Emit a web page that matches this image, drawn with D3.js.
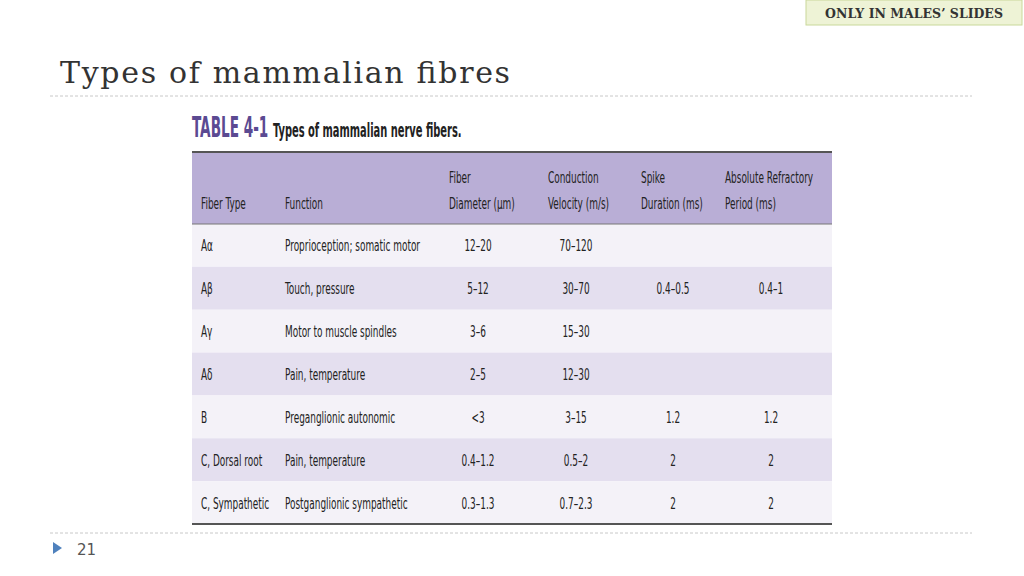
<!DOCTYPE html><html><head><meta charset="utf-8">
<script src="https://cdn.jsdelivr.net/npm/d3@7"></script>
<style>body{margin:0;background:#fff}svg{display:block}</style></head><body>
<script>
const headers=[["Fiber Type"],["Function"],["Fiber","Diameter (μm)"],["Conduction","Velocity (m/s)"],["Spike","Duration (ms)"],["Absolute Refractory","Period (ms)"]];
const fiberTypes=["Aα","Aβ","Aγ","Aδ","B","C, Dorsal root","C, Sympathetic"];
const functions=["Proprioception; somatic motor","Touch, pressure","Motor to muscle spindles","Pain, temperature","Preganglionic autonomic","Pain, temperature","Postganglionic sympathetic"];
const diameters=["12–20","5–12","3–6","2–5","<3","0.4–1.2","0.3–1.3"];
const velocities=["70–120","30–70","15–30","12–30","3–15","0.5–2","0.7–2.3"];
const spikes=["","0.4–0.5","","","1.2","2","2"];
const refractory=["","0.4–1","","","1.2","2","2"];

const W=1024,H=576;
const svg=d3.select("body").append("svg").attr("width",W).attr("height",H);
const cf="'DejaVu Sans Condensed','DejaVu Sans',sans-serif";
const SX=0.62;
function ctext(x,y,t,opts={}){
  return svg.append("text").attr("transform",`translate(${x},${y}) scale(${opts.sx||SX},1)`)
    .attr("text-anchor",opts.anchor||"start").attr("font-family",cf).attr("font-size",opts.size||16)
    .attr("font-weight",opts.bold?"bold":"normal").attr("fill",opts.fill||"#222").text(t);
}
// badge
svg.append("rect").attr("x",806).attr("y",0).attr("width",216).attr("height",25).attr("fill","#eef3d6").attr("stroke","#c9d89a");
svg.append("text").attr("x",914).attr("y",18).attr("text-anchor","middle").attr("font-family","'DejaVu Serif',serif").attr("font-weight","bold").attr("font-size",12.5).attr("fill","#333").text("ONLY IN MALES’ SLIDES");
// title
svg.append("text").attr("x",60).attr("y",83).attr("font-family","'DejaVu Serif',serif").attr("font-size",30).attr("fill","#333").attr("textLength",450).text("Types of mammalian fibres");
[96,533].forEach(y=>svg.append("line").attr("x1",50).attr("x2",972).attr("y1",y).attr("y2",y).attr("stroke","#c8c8c8").attr("stroke-dasharray","3,2"));
svg.append("path").attr("d","M53,542 L62,548 L53,554Z").attr("fill","#4f81bd");
svg.append("text").attr("x",77).attr("y",555).attr("font-family","'DejaVu Sans',sans-serif").attr("font-size",15).attr("fill","#555").text("21");
// caption
ctext(192,137,"TABLE 4-1",{bold:true,size:28,sx:0.54,fill:"#5b4a92"});
ctext(273,137,"Types of mammalian nerve fibers.",{bold:true,size:20,sx:0.55});
// table
const x0=192,x1=832;
const y=d3.scaleBand().domain(d3.range(fiberTypes.length)).range([224,524]);
svg.append("rect").attr("x",x0).attr("y",152).attr("width",x1-x0).attr("height",72).attr("fill","#b9aed6");
svg.selectAll(".row").data(fiberTypes).join("rect").attr("x",x0).attr("width",x1-x0).attr("y",(d,i)=>y(i)).attr("height",y.bandwidth()).attr("fill",(d,i)=>i%2?"#e4dfef":"#f4f2f8");
svg.append("line").attr("x1",x0).attr("x2",x1).attr("y1",152).attr("y2",152).attr("stroke","#555").attr("stroke-width",2);
svg.append("line").attr("x1",x0).attr("x2",x1).attr("y1",224).attr("y2",224).attr("stroke","#777").attr("stroke-width",1);
svg.append("line").attr("x1",x0).attr("x2",x1).attr("y1",524).attr("y2",524).attr("stroke","#555").attr("stroke-width",2);
const colX=[201,285,449,548,641,725];
headers.forEach((h,c)=>h.forEach((t,k)=>ctext(colX[c],209-(h.length-1-k)*26,t,{size:16})));
const cols=[[fiberTypes,201,"start"],[functions,285,"start"],[diameters,478,"middle"],[velocities,576,"middle"],[spikes,673,"middle"],[refractory,771,"middle"]];
cols.forEach(([arr,x,a])=>arr.forEach((d,i)=>ctext(x,y(i)+y.bandwidth()/2+6,d,{anchor:a,size:16})));
</script></body></html>
